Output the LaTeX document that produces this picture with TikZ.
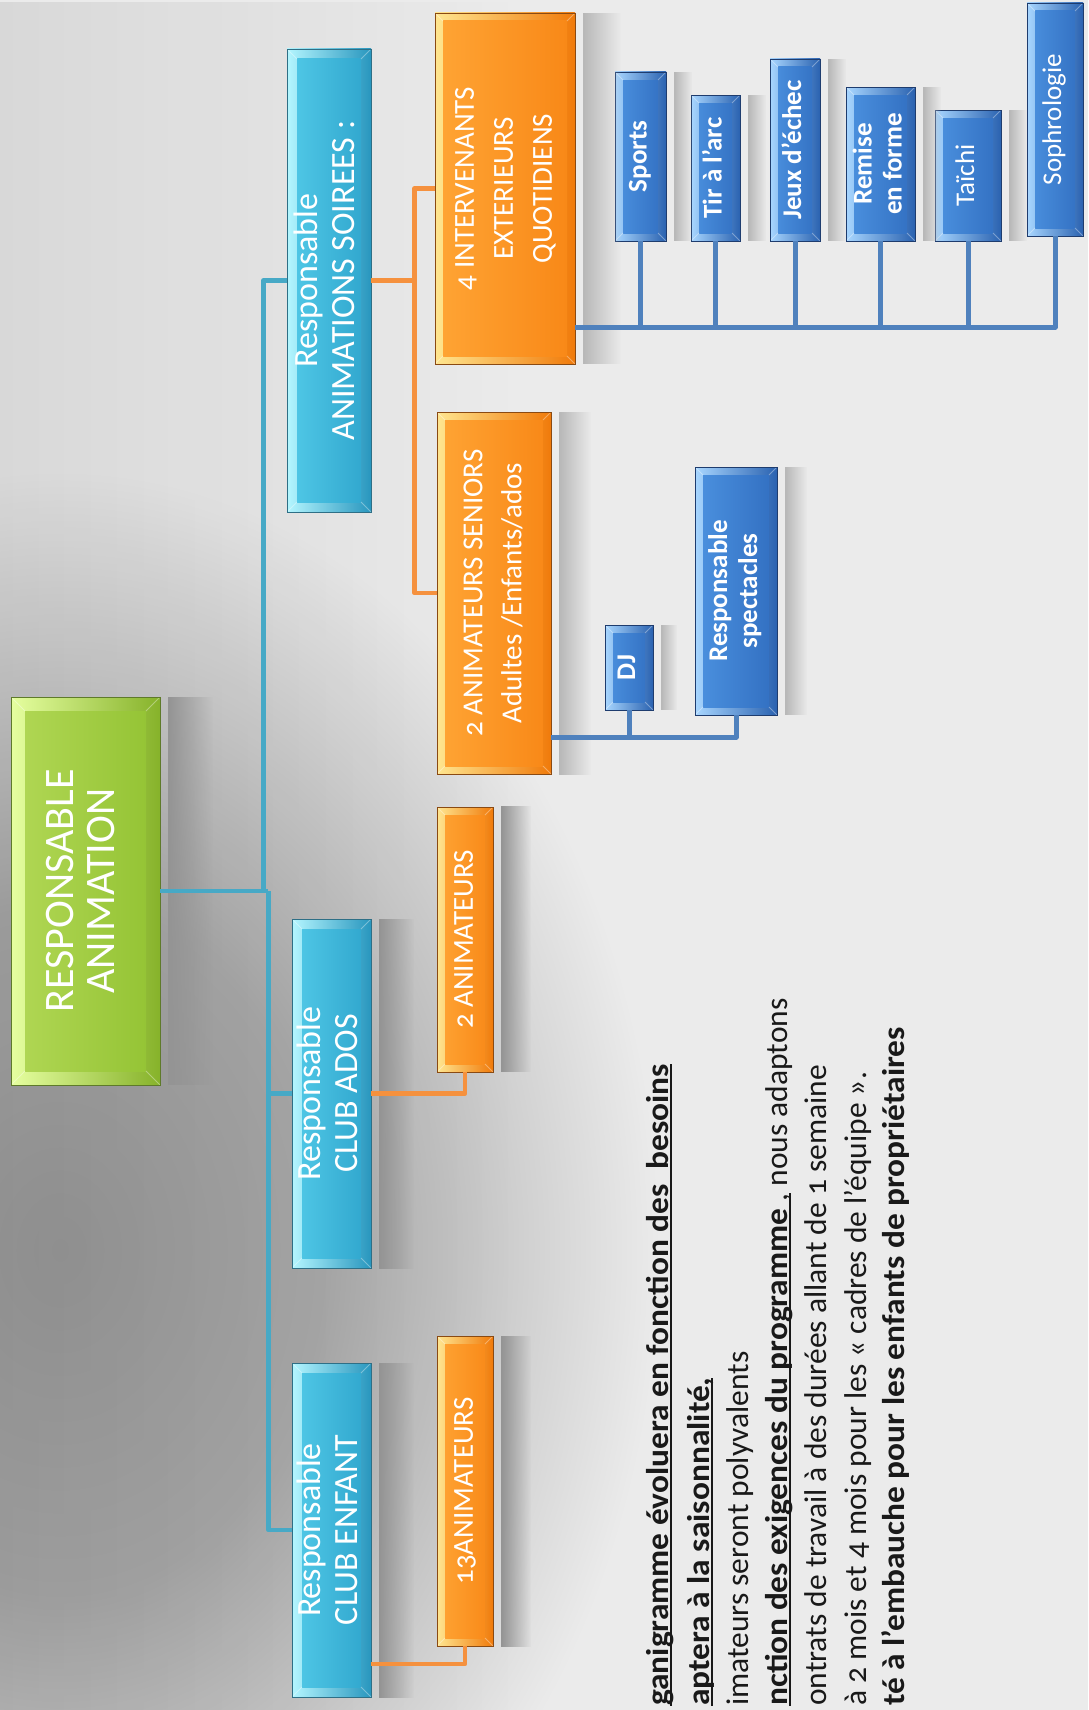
\documentclass[tikz,border=0pt]{standalone}
\usepackage{fontspec}
\setmainfont{Carlito}[Numbers=OldStyle]
\usetikzlibrary{fadings}
\tikzfading[name=fadeR, left color=transparent!0, right color=transparent!100]
\definecolor{bgc}{HTML}{EBEBEB}
\definecolor{bgdark}{HTML}{9A9A9A}
\definecolor{bgm1}{HTML}{A9A9A9}
\definecolor{bgm2}{HTML}{CFCFCF}
\pgfdeclareradialshading{bgsh}{\pgfpoint{0bp}{0bp}}{color(0bp)=(bgdark); color(11bp)=(bgm1); color(19bp)=(bgm2); color(25bp)=(bgc); color(50bp)=(bgc)}
\definecolor{gL}{HTML}{E6FFA0}\definecolor{gD}{HTML}{86B22A}\definecolor{gM1}{HTML}{B2D856}\definecolor{gM2}{HTML}{92C232}\definecolor{gB}{HTML}{5E7A2A}
\definecolor{tL}{HTML}{B4F6FF}\definecolor{tD}{HTML}{2896BE}\definecolor{tM1}{HTML}{52CAE8}\definecolor{tM2}{HTML}{2EA4CC}\definecolor{tB}{HTML}{2E6F86}
\definecolor{oL}{HTML}{FFE690}\definecolor{oD}{HTML}{F07A0A}\definecolor{oM1}{HTML}{FFA535}\definecolor{oM2}{HTML}{F88716}\definecolor{oB}{HTML}{8A4A12}
\definecolor{bL}{HTML}{A8D6FF}\definecolor{bD}{HTML}{2A62B0}\definecolor{bM1}{HTML}{4C92E0}\definecolor{bM2}{HTML}{316EC0}\definecolor{bB}{HTML}{1E3C6E}
\definecolor{tlc}{HTML}{47A9C6}
\definecolor{olc}{HTML}{F5913E}
\definecolor{blc}{HTML}{4F81BD}
\newsavebox\ulbox
\newcommand\myul[1]{\sbox\ulbox{#1}\rlap{\rule[-4pt]{\wd\ulbox}{1.8pt}}\usebox\ulbox}
\newcommand\bstr[1]{\scalebox{1.06}[1]{\bfseries #1}}
\newcommand\rtxt[1]{\rotatebox{90}{\begin{tabular}{@{}c@{}}#1\end{tabular}}}
\tikzset{
  bx/.style n args={6}{draw=#5, line width=0.9pt, left color=#1, right color=#2, inner sep=0pt, text=white,
    path picture={
      \shade[left color=#3, right color=#4] ([shift={(#6,#6)}]path picture bounding box.south west) rectangle ([shift={(-#6,-#6)}]path picture bounding box.north east);
      \draw[white, opacity=.35, line width=.8pt]
        (path picture bounding box.north west) -- ([shift={(#6,-#6)}]path picture bounding box.north west)
        (path picture bounding box.south west) -- ([shift={(#6,#6)}]path picture bounding box.south west)
        (path picture bounding box.north east) -- ([shift={(-#6,-#6)}]path picture bounding box.north east)
        (path picture bounding box.south east) -- ([shift={(-#6,#6)}]path picture bounding box.south east);
    }},
  gbox/.style={bx={gL}{gD}{gM1}{gM2}{gB}{14pt}, font=\fontsize{42}{41}\selectfont},
  tbox/.style={bx={tL}{tD}{tM1}{tM2}{tB}{10pt}, font=\fontsize{34}{37}\selectfont},
  obox/.style={bx={oL}{oD}{oM1}{oM2}{oB}{8pt}, font=\fontsize{29}{39}\selectfont},
  bbox/.style={bx={bL}{bD}{bM1}{bM2}{bB}{8pt}, font=\fontsize{27}{31}\selectfont},
  bbold/.style={bbox, font=\fontsize{27}{30}\selectfont\bfseries},
  tline/.style={draw=tlc, line width=4.5pt, line join=round},
  oline/.style={draw=olc, line width=4.5pt, line join=round},
  bline/.style={draw=blc, line width=5pt, line join=round},
  shd/.style={fill=black!42, path fading=fadeR},
  shdl/.style={fill=black!28, path fading=fadeR},
  bt/.style={rotate=90, anchor=base west, inner sep=0pt, text=black!90, font=\fontsize{31.5}{38}\selectfont},
}
\begin{document}
\begin{tikzpicture}[x=1pt, y=-1pt]
\useasboundingbox (0,0) rectangle (1088,1710);
\clip (0,0) rectangle (1088,1710);
% background
\fill[bgc] (0,0) rectangle (1088,1710);
\shade[shading=bgsh] (60,1250) ellipse [x radius=600, y radius=780];
\fill[black, opacity=.08, path fading=fadeR] (0,0) rectangle (520,1710);

% level 0
\node[gbox, minimum width=149pt, minimum height=388pt] (resp) at (85.5,891) {\rtxt{RESPONSABLE\\ANIMATION}};
% level 1
\node[tbox, minimum width=84pt, minimum height=463pt] (soir) at (329,280.5) {\rtxt{Responsable\\ANIMATIONS SOIREES :}};
\node[tbox, minimum width=79pt, minimum height=349pt] (ados) at (331.5,1093.5) {\rtxt{Responsable\\CLUB ADOS}};
\node[tbox, minimum width=79pt, minimum height=334pt] (enf) at (331.5,1530) {\rtxt{Responsable\\CLUB ENFANT}};
% level 2
\node[obox, minimum width=56pt, minimum height=310pt] (anim13) at (465,1491) {\rtxt{13ANIMATEURS}};
\node[obox, minimum width=56pt, minimum height=265pt] (anim2) at (465,939.5) {\rtxt{2 ANIMATEURS}};
\node[obox, minimum width=114pt, minimum height=362pt] (sen) at (494,593) {\rtxt{2 ANIMATEURS SENIORS\\Adultes /Enfants/ados}};
\node[obox, minimum width=140pt, minimum height=351pt] (interv) at (505,188.5) {\rtxt{4 INTERVENANTS\\EXTERIEURS\\QUOTIDIENS}};
% level 3
\node[bbold, minimum width=48pt, minimum height=85pt] (dj) at (629,667.5) {\rtxt{DJ}};
\node[bbold, minimum width=82pt, minimum height=248pt] (spect) at (736,591) {\rtxt{Responsable\\spectacles}};
\node[bbold, minimum width=51pt, minimum height=169pt] (sports) at (640.5,156.5) {\rtxt{Sports}};
\node[bbold, minimum width=49pt, minimum height=146pt] (tir) at (715.5,168) {\rtxt{Tir à l’arc}};
\node[bbold, minimum width=50pt, minimum height=182pt] (jeux) at (795,150) {\rtxt{Jeux d’échec}};
\node[bbold, minimum width=69pt, minimum height=154pt] (remise) at (880.5,164) {\rtxt{Remise\\en forme}};
\node[bbox, minimum width=66pt, minimum height=131pt] (taichi) at (968,175.5) {\rtxt{Taïchi}};
\node[bbox, minimum width=56pt, minimum height=233pt] (sophro) at (1055,119.5) {\rtxt{Sophrologie}};

% shadows
\fill[shd] ([xshift=8pt]resp.north east) rectangle ([xshift=53pt]resp.south east);
\fill[shd] ([xshift=8pt]ados.north east) rectangle ([xshift=43pt]ados.south east);
\fill[shd] ([xshift=8pt]enf.north east) rectangle ([xshift=43pt]enf.south east);
\fill[shd] ([xshift=8pt]anim13.north east) rectangle ([xshift=38pt]anim13.south east);
\fill[shd] ([xshift=8pt]anim2.north east) rectangle ([xshift=38pt]anim2.south east);
\fill[shdl] ([xshift=8pt]sen.north east) rectangle ([xshift=40pt]sen.south east);
\fill[shdl] ([xshift=8pt]interv.north east) rectangle ([xshift=46pt]interv.south east);
\fill[shdl] ([xshift=8pt]dj.north east) rectangle ([xshift=24pt]dj.south east);
\fill[shdl] ([xshift=8pt]spect.north east) rectangle ([xshift=30pt]spect.south east);
\foreach \n in {sports,tir,jeux,remise,taichi,sophro}
  \fill[shdl] ([xshift=8pt]\n.north east) rectangle ([xshift=26pt]\n.south east);

% teal connectors
\coordinate (ju) at ([xshift=103pt]resp.east);
\coordinate (jd) at ([xshift=108pt]resp.east);
\draw[tline] (resp.east) -- (jd);
\draw[tline] (ju) |- (soir.west);
\draw[tline] (jd) |- (ados.west);
\draw[tline] (jd) |- (enf.west);
% orange connectors
\coordinate (oj) at ([xshift=43pt]soir.east);
\draw[oline] (soir.east) -- (oj) |- (interv.west);
\draw[oline] (oj) |- (sen.west);
\draw[oline] (ados.east) -| (anim2.south);
\draw[oline] ([yshift=-134pt]enf.east) -| (anim13.south);
% blue connectors
\coordinate (bj1) at ([yshift=-144pt]sen.east);
\draw[bline] (bj1) -| (spect.south);
\draw[bline] (dj.south) -- (dj.south |- bj1);
\coordinate (bj2) at ([yshift=-138.5pt]interv.east);
\draw[bline] (bj2) -| (sophro.south);
\foreach \n in {sports,tir,jeux,remise,taichi}
  \draw[bline] (\n.south) -- (\n.south |- bj2);

% bottom text
\node[bt] (l1) at (668,1706) {\myul{\bstr{ganigramme évoluera en fonction des\ \ besoins}}};
\node[bt] (l2) at (709,1706) {\myul{\bstr{aptera à la saisonnalité,}}};
\node[bt] (l3) at (748,1706) {imateurs seront polyvalents};
\node[bt] (l4) at (787,1706) {\myul{\bstr{nction des exigences du programme}\ ,} nous adaptons};
\node[bt] (l5) at (826,1706) {ontrats de travail à des durées allant de 1 semaine};
\node[bt] (l6) at (866,1706) {à 2 mois et 4 mois pour les «~cadres de l’équipe~».};
\node[bt] (l7) at (904,1706) {\bstr{té à l’embauche pour les enfants de propriétaires}};
\end{tikzpicture}
\end{document}
